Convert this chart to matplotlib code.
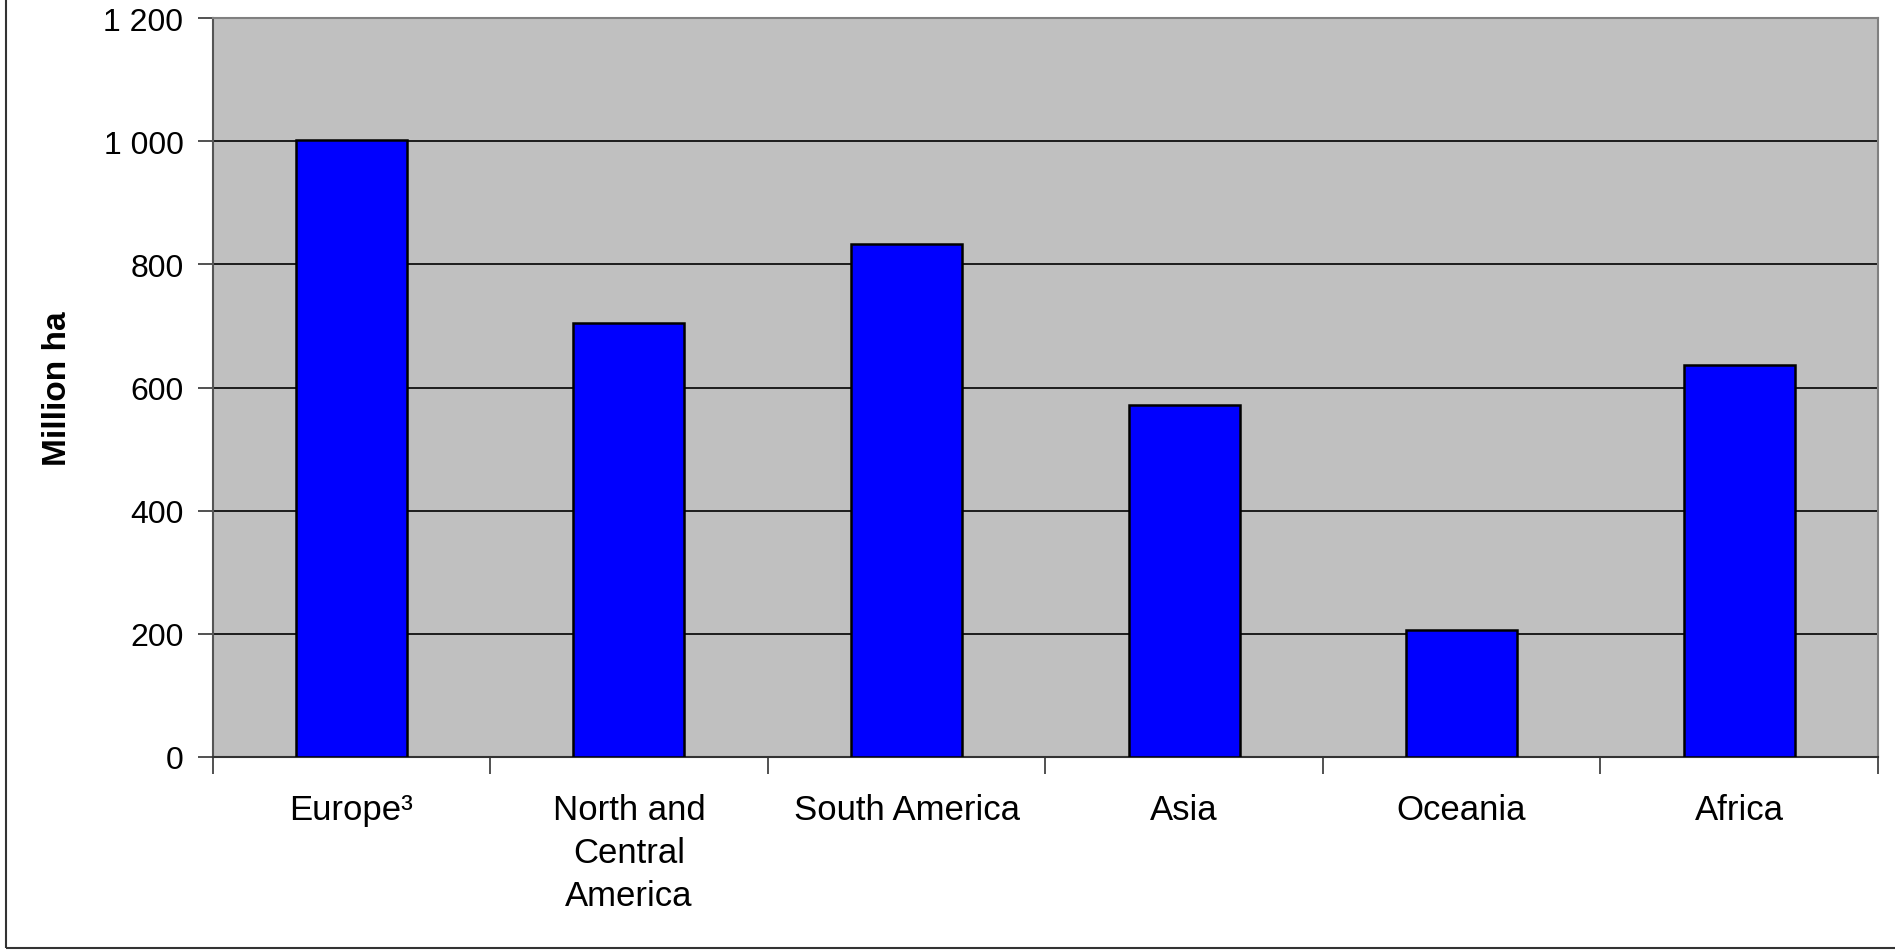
import matplotlib
matplotlib.use("Agg")
import matplotlib.pyplot as plt
from matplotlib.patches import Rectangle
from matplotlib.ticker import FuncFormatter

# forest area by region, million ha
regions = ["Europe\u00b3", "North and\nCentral\nAmerica", "South America", "Asia", "Oceania", "Africa"]
forest_area = [1003, 705, 833, 572, 206, 637]
y_ticks = [0, 200, 400, 600, 800, 1000, 1200]

plt.rcParams['font.family'] = ['Liberation Sans', 'DejaVu Sans']

fig = plt.figure(figsize=(18.95, 9.53), dpi=100)
ax = fig.add_axes([0.1122, 0.2049, 0.991 - 0.1122, 0.9797 - 0.2049])
ax.set_facecolor('#C0C0C0')

x = list(range(len(regions)))
ax.set_axisbelow(True)
ax.yaxis.grid(True, color='black', linewidth=1.2)
ax.bar(x, forest_area, width=0.4, color='#0000FF', edgecolor='black', linewidth=1.8, zorder=3)

ax.set_xlim(-0.5, len(regions) - 0.5)
ax.set_ylim(0, 1200)
ax.set_yticks(y_ticks)
ax.yaxis.set_major_formatter(FuncFormatter(lambda v, p: f"{int(v):,}".replace(",", " ")))

# category labels at bar centres, tick marks between categories
ax.set_xticks(x)
ax.set_xticklabels(regions, linespacing=1.38)
ax.set_xticks([i - 0.5 for i in range(len(regions) + 1)], minor=True)
ax.tick_params(axis='x', which='major', length=0, pad=26, labelsize=25)
ax.tick_params(axis='x', which='minor', length=12, width=1.2, color='#333333', direction='out')
ax.tick_params(axis='y', length=11, width=1.2, color='#333333', pad=10, labelsize=23)

ax.set_ylabel("Million ha", fontsize=24, fontweight='bold', labelpad=22)

for side in ['top', 'right']:
    ax.spines[side].set_color('#808080')
    ax.spines[side].set_linewidth(1.5)
ax.spines['left'].set_color('#555555')
ax.spines['left'].set_linewidth(1.5)
ax.spines['bottom'].set_color('#333333')
ax.spines['bottom'].set_linewidth(1.5)

# outer chart border (cut off at top and right)
W, H = 1895, 953
fig.patches.append(Rectangle((6 / W, 4 / H), 1.0, 1.0, transform=fig.transFigure,
                             fill=False, edgecolor='#333333', linewidth=1.5))

fig.savefig("out.png", dpi=100)
